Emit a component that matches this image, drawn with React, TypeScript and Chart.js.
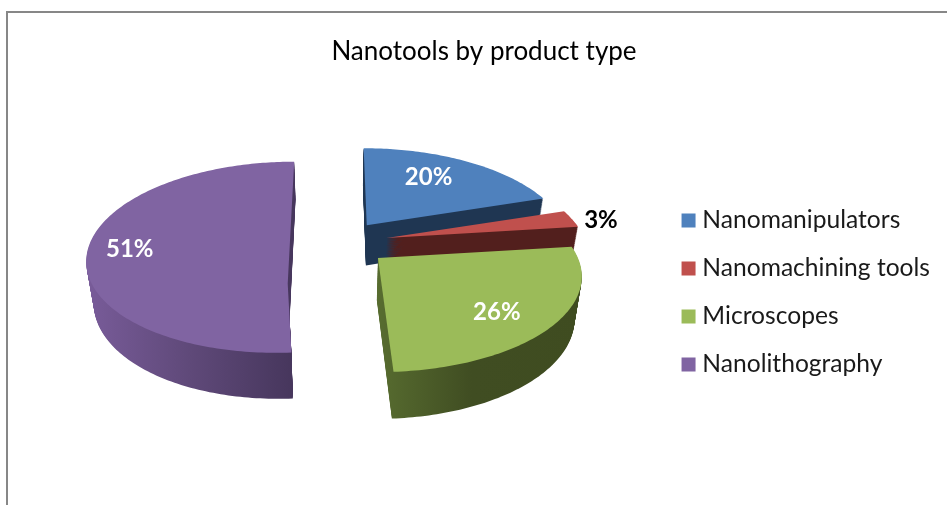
import React, { useEffect, useRef } from "react";
import { Chart, registerables } from "chart.js";

Chart.register(...registerables);

const categories = ["Nanomanipulators", "Nanomachining tools", "Microscopes", "Nanolithography"];
const shares = [20, 3, 26, 51];
const sliceColors = ["#4f81bd", "#c0504d", "#9bbb59", "#8064a2"];
const chartTitle = "Nanotools by product type";
const labelColors = ["#ffffff", "#000000", "#ffffff", "#ffffff"];

const FONT = "Lato";
const PIE_X = 339;
const PIE_Y = 243;
const RADIUS = 198;
const EXPLODE = 49;
const TILT = 0.4646;
const PERSP = 0.194;
const STEPS = 46;
const sliceLift = [0, 0, 0, -5];
const sliceShiftX = [0, 0, 0, -5];
const sliceWidth = [1, 1, 1.01, 0.985];
const sliceShear = [0.04, 0, 0, -0.094];
const shearPivot = [-18, 0, 0, 17];
const hubShift = [[0, 0], [0, 0], [0, 0], [5, 45]];
const labelReach = [0.6, 1.2, 0.6, 0.6];
const labelNudge = [[-2, -7], [-6, 5], [20, 16], [-41, 9]];

const CANVAS_LEFT = 8;
const CANVAS_TOP = 13;

const project = (px: number, py: number) => {
  const w = 1 - (PERSP * py) / RADIUS;
  return [px / w, (TILT * py) / w];
};

const slicePoints = (el: any, i: number) => {
  const mid = (el.startAngle + el.endAngle) / 2;
  const o = el.options.offset;
  const base = project(Math.cos(mid) * o, Math.sin(mid) * o);
  const bx = base[0] + sliceShiftX[i];
  const by = base[1] + sliceLift[i];
  const r = el.outerRadius;
  const raw: number[][] = [[bx + hubShift[i][0], by + hubShift[i][1]]];
  const n = Math.max(4, Math.round(((el.endAngle - el.startAngle) * 180) / Math.PI));
  for (let k = 0; k <= n; k++) {
    const a = el.startAngle + ((el.endAngle - el.startAngle) * k) / n;
    const p = project(Math.cos(a) * r, Math.sin(a) * r);
    raw.push([bx + p[0] * sliceWidth[i], by + p[1]]);
  }
  return raw.map(([x, y]) => [x + sliceShear[i] * (y - shearPivot[i]), y]);
};

const tracePath = (ctx: CanvasRenderingContext2D, pts: number[][], t: number, ox: number, oy: number) => {
  ctx.beginPath();
  pts.forEach(([x, y], i) => {
    const sx = ox + x * (1 - 0.03 * t);
    const sy = oy + y * (1 + 0.045 * t) + 41 * t;
    if (i === 0) ctx.moveTo(sx, sy);
    else ctx.lineTo(sx, sy);
  });
  ctx.closePath();
};

const sideFill = (ctx: CanvasRenderingContext2D, i: number) => {
  const stops: any[] = [
    [[360, 0, "#1f3652"], [560, 1, "#1f3652"]],
    [[380, 0, "#521f1d"], [590, 1, "#521f1d"]],
    [[375, 0, "#586d30"], [470, 0.45, "#404d22"], [590, 1, "#3f4c20"]],
    [[85, 0, "#795c9a"], [190, 0.5, "#5f4979"], [295, 1, "#46365c"]],
  ];
  const s: any[] = stops[i];
  const g = ctx.createLinearGradient(s[0][0] - CANVAS_LEFT, 0, s[s.length - 1][0] - CANVAS_LEFT, 0);
  s.forEach((st) => g.addColorStop(st[1], st[2]));
  return g;
};

const piePlugin = {
  id: "tiltedPie",
  beforeDatasetsDraw(chart: any) {
    const ctx: CanvasRenderingContext2D = chart.ctx;
    const meta = chart.getDatasetMeta(0);
    const ox = PIE_X - CANVAS_LEFT;
    const oy = PIE_Y - CANVAS_TOP;
    meta.data.forEach((el: any, i: number) => {
      const pts = slicePoints(el, i);
      ctx.save();
      ctx.fillStyle = sideFill(ctx, i);
      for (let k = STEPS; k >= 1; k--) {
        tracePath(ctx, pts, k / STEPS, ox, oy);
        ctx.fill();
      }
      tracePath(ctx, pts, 0, ox, oy);
      ctx.fillStyle = el.options.backgroundColor;
      ctx.fill();
      ctx.restore();
    });
    const total = shares.reduce((a, b) => a + b, 0);
    meta.data.forEach((el: any, i: number) => {
      const mid = (el.startAngle + el.endAngle) / 2;
      const base = project(Math.cos(mid) * el.options.offset, Math.sin(mid) * el.options.offset);
      const t = el.outerRadius * labelReach[i];
      const p = project(Math.cos(mid) * t, Math.sin(mid) * t);
      ctx.save();
      ctx.font = `bold 24px ${FONT}`;
      ctx.fillStyle = labelColors[i];
      ctx.textAlign = "center";
      ctx.textBaseline = "middle";
      ctx.fillText(
        `${Math.round((shares[i] / total) * 100)}%`,
        ox + base[0] + p[0] + labelNudge[i][0],
        oy + base[1] + p[1] + sliceLift[i] + labelNudge[i][1]
      );
      ctx.restore();
    });
    return false;
  },
};

export default function App() {
  const ref = useRef<HTMLCanvasElement>(null);
  useEffect(() => {
    document.body.style.margin = "0";
    document.body.style.overflow = "hidden";
    const chart = new Chart(ref.current!, {
      type: "pie",
      data: {
        labels: categories,
        datasets: [
          {
            data: shares,
            backgroundColor: sliceColors,
            borderColor: sliceColors,
            borderWidth: 11,
            offset: EXPLODE,
            radius: RADIUS,
          } as any,
        ],
      },
      options: {
        responsive: false,
        animation: false,
        events: [],
        layout: { padding: { left: 20, right: 20, top: 0, bottom: 0 } },
        plugins: {
          tooltip: { enabled: false },
          title: {
            display: true,
            text: chartTitle,
            color: "#000000",
            font: { family: FONT, size: 26, weight: "normal" },
            padding: { top: 23, bottom: 10 },
          },
          legend: {
            position: "right",
            labels: {
              color: "#1a1a1a",
              font: { family: FONT, size: 24.6 },
              boxWidth: 3,
              boxHeight: 3,
              padding: 23.4,
            },
          },
        },
      },
      plugins: [piePlugin],
    } as any);
    return () => chart.destroy();
  }, []);
  return (
    <div
      style={{
        position: "absolute",
        left: 6,
        top: 11,
        width: 1000,
        height: 600,
        borderLeft: "2px solid #878787",
        borderTop: "2px solid #878787",
        overflow: "hidden",
        background: "#fff",
      }}
    >
      <canvas ref={ref} width={952} height={559} style={{ display: "block" }} />
    </div>
  );
}
